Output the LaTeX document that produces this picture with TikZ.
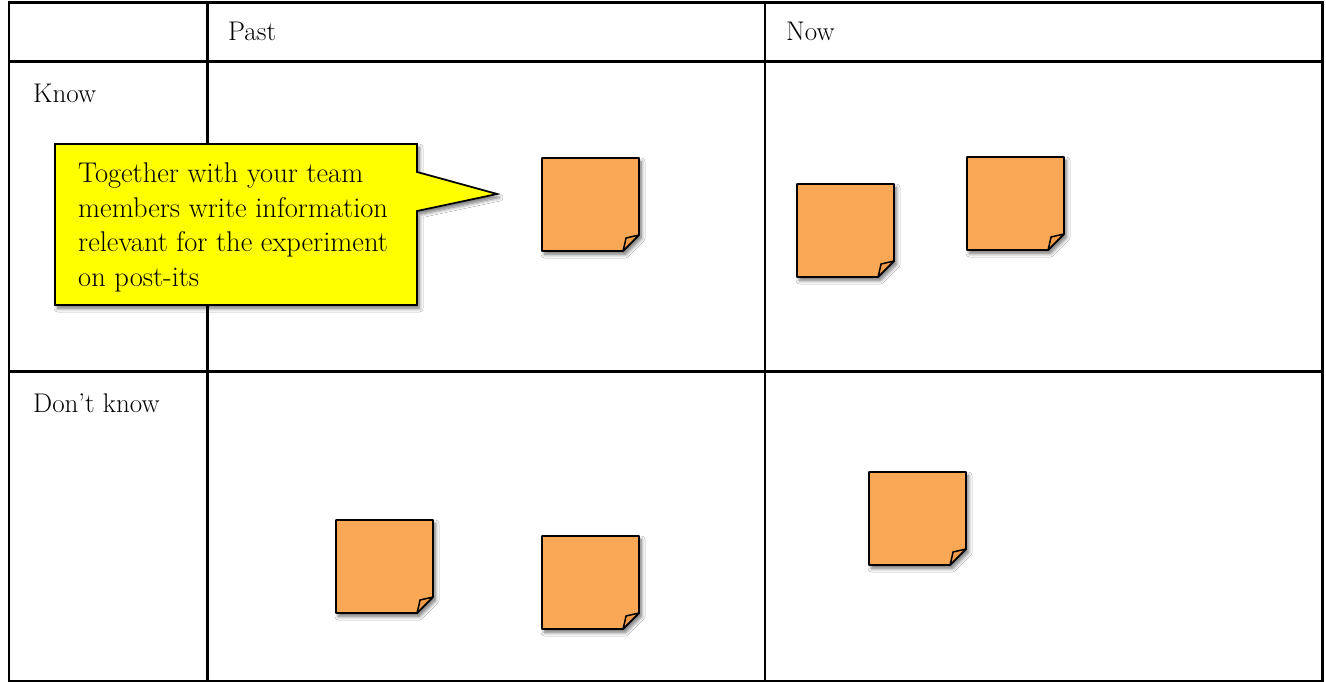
\documentclass[tikz,border=0pt]{standalone}
\usepackage{fontspec}
\usetikzlibrary{shadows.blur,calc}
\definecolor{postit}{RGB}{250,168,86}
\definecolor{postitfold}{RGB}{242,155,72}
\definecolor{calloutfill}{RGB}{255,255,0}
\tikzset{
  grid line/.style={line width=2.8pt, draw=black},
  label text/.style={font=\fontsize{27}{30}\selectfont, anchor=base west, inner sep=0pt},
  postit body/.style={fill=postit, draw=black, line width=1.7pt, line join=round,
    blur shadow={shadow xshift=2.5pt, shadow yshift=-3.5pt, shadow blur steps=8, shadow opacity=55, shadow blur radius=3.5pt}},
  postit fold/.style={fill=postitfold, draw=black, line width=1.5pt, line join=round},
  callout box/.style={fill=calloutfill, draw=black, line width=1.7pt, line join=miter,
    blur shadow={shadow xshift=2.5pt, shadow yshift=-3.5pt, shadow blur steps=8, shadow opacity=55, shadow blur radius=3.5pt}},
  callout text/.style={font=\fontsize{28.5}{34.5}\selectfont, anchor=north west, inner sep=0pt, align=left}
}
\newcommand\drawpostit[3]{%
  \begin{scope}[shift={(#2,#3)}]
    \coordinate (#1) at (0,0);
    \path[postit body] (0,0) -- (97,0) -- (97,77) -- (81,93) -- (0,93) -- cycle;
    \path[postit fold] (97,77) -- (84,80) .. controls (83,85) and (82,89) .. (81,93) -- cycle;
  \end{scope}}
\begin{document}
\begin{tikzpicture}[x=1pt,y=-1pt]
  \useasboundingbox (0,0) rectangle (1326,682);
  \fill[white] (0,0) rectangle (1326,682);
  % grid
  \coordinate (tl) at (9,2.5);
  \coordinate (br) at (1322.5,681);
  \draw[grid line] (tl) rectangle (br);
  \draw[grid line] (9,61.5) -- (1322.5,61.5);
  \draw[grid line] (9,371.5) -- (1322.5,371.5);
  \draw[grid line] (207.5,2.5) -- (207.5,681);
  \draw[grid line] (765,2.5) -- (765,681);
  % labels
  \node[label text] (past) at (228,41) {Past};
  \node[label text] (now) at (786,41) {Now};
  \node[label text] (know) at (33,103) {Know};
  \node[label text] (dontknow) at (33,412) {Don’t know};
  % post-its
  \drawpostit{p1}{542}{158}
  \drawpostit{p2}{797}{184}
  \drawpostit{p3}{967}{157}
  \drawpostit{p4}{336}{520}
  \drawpostit{p5}{542}{536}
  \drawpostit{p6}{869}{472}
  % callout
  \path[callout box] (55,144) -- (417,144) -- (417,172) -- (497,194) -- (417,211) -- (417,305) -- (55,305) -- cycle;
  \node[callout text] (callouttext) at (78,163) {Together with your team\\members write information\\relevant for the experiment\\on post-its};
\end{tikzpicture}
\end{document}
